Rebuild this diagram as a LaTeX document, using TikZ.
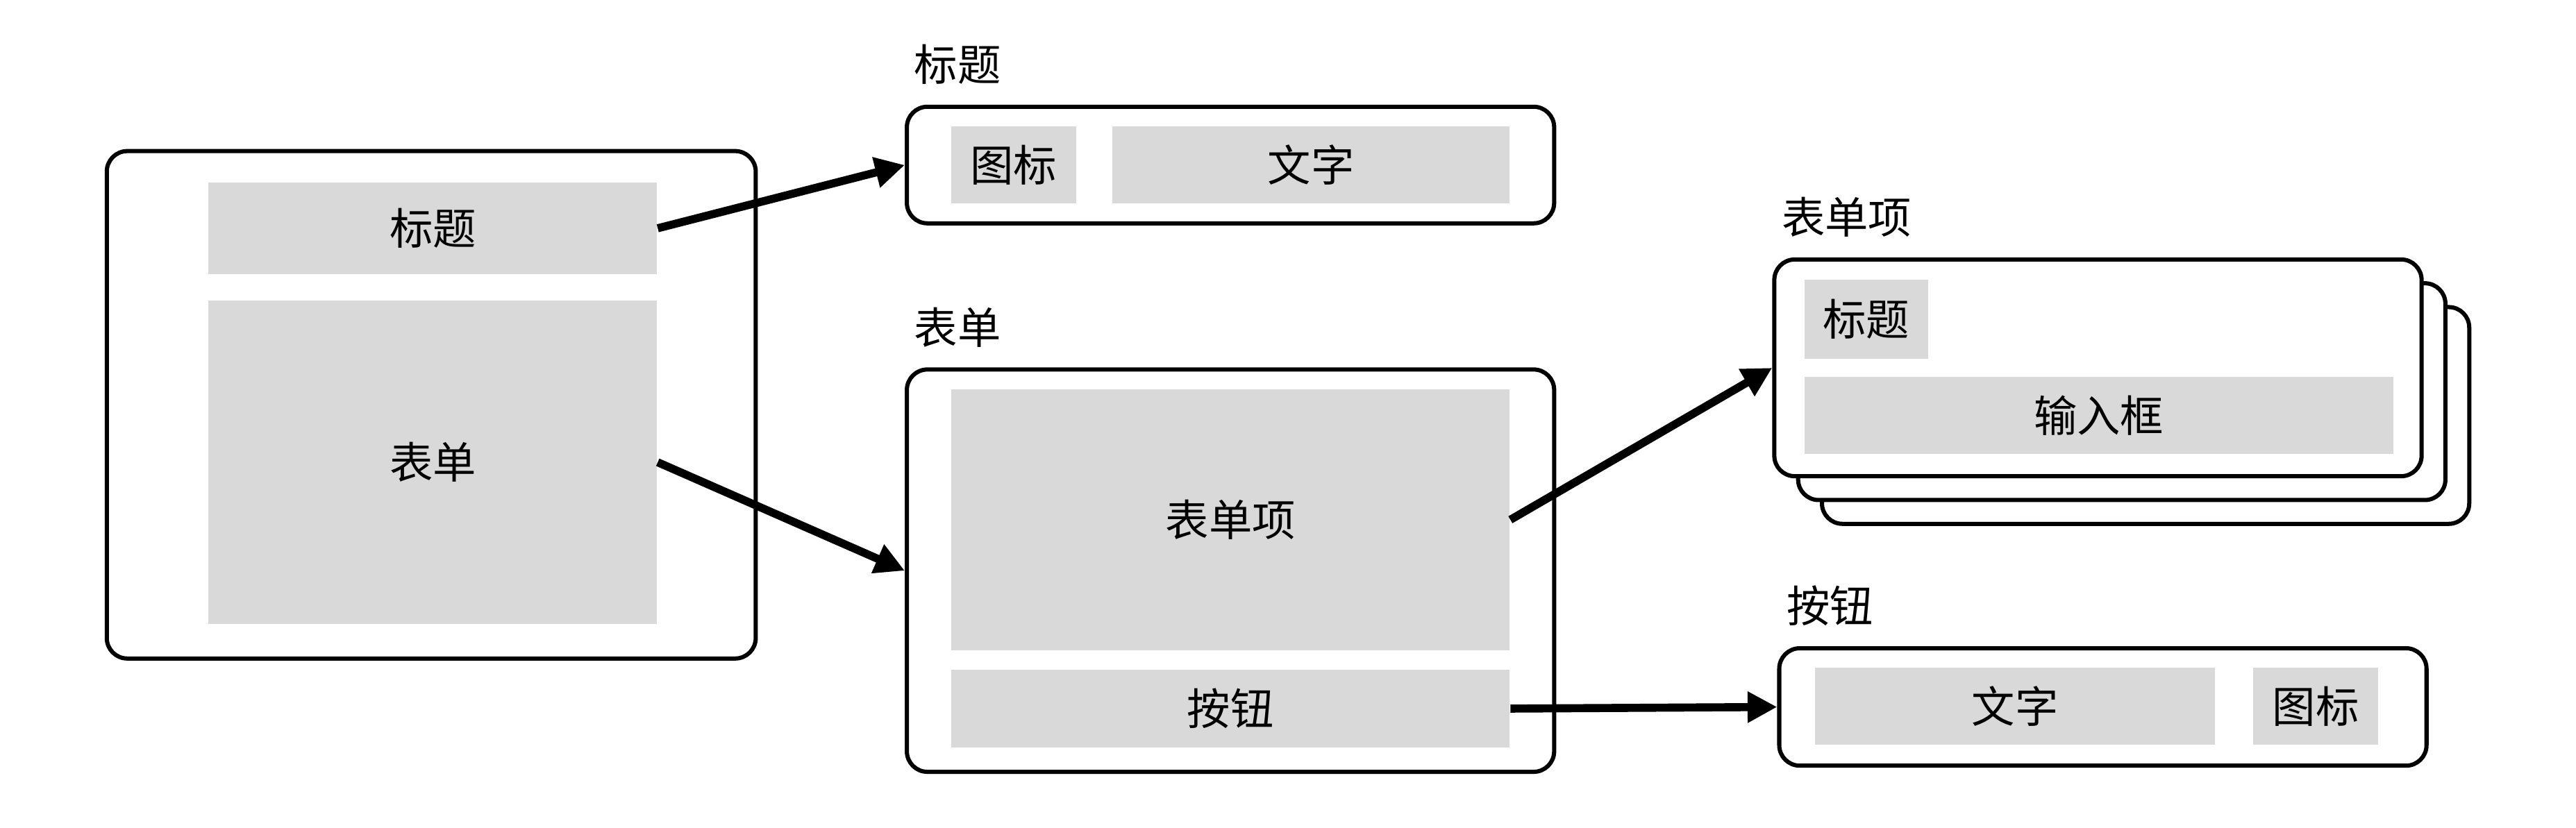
\documentclass[tikz,border=0pt]{standalone}
\usepackage{fontspec}
\setmainfont{Noto Sans CJK SC}
\usepackage{xcolor}
\definecolor{partgray}{HTML}{D9D9D9}
\usetikzlibrary{shapes,arrows,arrows.meta}
\usetikzlibrary{positioning}
\tikzstyle{panel} = [rectangle, draw, line width=1.45pt, rounded corners=0.25cm,
    fill=white, inner sep=0pt, minimum width=7.88cm]
\tikzstyle{part} = [rectangle, fill=partgray, inner sep=0pt, minimum height=0.94cm]
\tikzstyle{caption} = [anchor=base west, inner sep=0pt]
\tikzstyle{line} = [draw, line width=2.8pt, -{Triangle[length=0.36cm,width=0.36cm]}]

\begin{document}
\begin{tikzpicture}[font=\fontsize{15}{18}\selectfont]
    \useasboundingbox (0,0) rectangle (31.36,-10.08);
    % Place nodes

    % page
    \node [panel, minimum width=7.9cm, minimum height=6.18cm] (page) at (5.25,-4.93) {};
    \node [part, minimum width=5.46cm, minimum height=1.12cm] (ptitle) at (5.27,-2.78) {标题};
    \node [part, minimum width=5.46cm, minimum height=3.94cm] (pform) at (5.27,-5.63) {表单};

    % header
    \node [panel, minimum height=1.42cm] (header) at (14.98,-2.01) {};
    \node [caption] at ([xshift=0.11cm,yshift=0.29cm]header.north west) {标题};
    \node [part, minimum width=1.52cm] (hicon) at (12.34,-2.01) {图标};
    \node [part, minimum width=4.84cm] (htext) at (15.96,-2.01) {文字};

    % form
    \node [panel, minimum height=4.90cm] (form) at (14.98,-6.95) {};
    \node [caption] at ([xshift=0.11cm,yshift=0.29cm]form.north west) {表单};
    \node [part, minimum width=6.80cm, minimum height=3.18cm] (fitem) at (14.98,-6.33) {表单项};
    \node [part, minimum width=6.80cm] (fbutton) at (14.98,-8.63) {按钮};

    % form item (stacked)
    \node [panel, minimum height=2.64cm] (itemback) at (26.12,-5.06) {};
    \node [panel, minimum height=2.64cm] (itemmid) at (25.83,-4.77) {};
    \node [panel, minimum height=2.64cm] (item) at (25.54,-4.48) {};
    \node [caption] at ([xshift=0.11cm,yshift=0.29cm]item.north west) {表单项};
    \node [part, minimum width=1.50cm, minimum height=0.96cm] (ititle) at (22.72,-3.89) {标题};
    \node [part, minimum width=7.17cm] (iinput) at (25.55,-5.06) {输入框};

    % button
    \node [panel, minimum height=1.43cm] (button) at (25.60,-8.61) {};
    \node [caption] at ([xshift=0.11cm,yshift=0.29cm]button.north west) {按钮};
    \node [part, minimum width=4.87cm] (btext) at (24.53,-8.60) {文字};
    \node [part, minimum width=1.52cm] (bicon) at (28.19,-8.60) {图标};

    % Draw edges
    \path [line] (ptitle.east) -- (header.west);
    \path [line] (pform.east) -- (form.west);
    \path [line] (fitem.east) -- (item.west);
    \path [line] (fbutton.east) -- (button.west);
\end{tikzpicture}
\end{document}
